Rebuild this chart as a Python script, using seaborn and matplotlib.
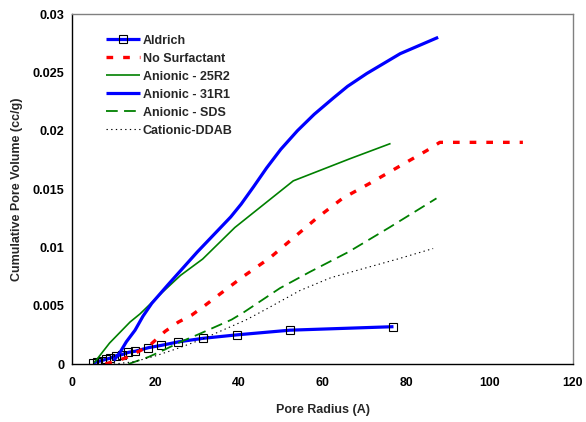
import matplotlib
matplotlib.use("Agg")
import matplotlib.pyplot as plt
import seaborn as sns
import pandas as pd

sns.set_theme(style="white")
plt.rcParams['font.family'] = ['Liberation Sans', 'DejaVu Sans']

# ---- data ----
aldrich_x = [5.1, 6.1, 7.1, 8.1, 9.1, 10.5, 11.9, 13.5, 15.2, 18.3, 21.4, 25.5, 31.3, 39.5, 52.2, 77.0]
aldrich_y = [0.0001, 0.0002, 0.0003, 0.0004, 0.0005, 0.0007, 0.0008, 0.0010, 0.0011, 0.0014, 0.0016,
             0.0019, 0.0022, 0.0025, 0.0029, 0.0032]

nosurf_x = [8.0, 12.7, 18.3, 22.3, 25.5, 28.7, 31.4, 34.7, 41.0, 47.4, 53.0, 58.6, 64.8, 71.4, 78.2, 85.0, 88.1, 108.0]
nosurf_y = [0.0, 0.0005, 0.0015, 0.0028, 0.0036, 0.0042, 0.0049, 0.0058, 0.0075, 0.0091, 0.0108, 0.0125,
            0.0142, 0.0155, 0.0169, 0.0183, 0.0190, 0.0190]

r25_x = [5.3, 9.0, 13.9, 16.3, 21.5, 26.0, 31.3, 39.0, 46.0, 53.0, 66.6, 76.3]
r25_y = [0.0001, 0.0018, 0.0036, 0.0043, 0.0061, 0.0076, 0.0090, 0.0117, 0.0137, 0.0157, 0.0176, 0.0189]

r31_x = [10.0, 11.5, 13.0, 15.1, 17.0, 19.1, 23.0, 26.0, 30.0, 34.0, 38.0, 40.5, 43.5, 46.6, 50.0,
         54.0, 58.0, 62.6, 66.0, 70.6, 78.6, 87.7]
r31_y = [0.0003, 0.0010, 0.0019, 0.0029, 0.0041, 0.0052, 0.0068, 0.0080, 0.0096, 0.0111, 0.0126, 0.0137,
         0.0152, 0.0168, 0.0184, 0.0200, 0.0214, 0.0228, 0.0238, 0.0249, 0.0266, 0.0280]

sds_x = [13.5, 18.3, 22.0, 26.0, 30.0, 38.2, 41.0, 49.8, 57.0, 66.2, 76.0, 87.3]
sds_y = [0.0, 0.0006, 0.0012, 0.0019, 0.0025, 0.0038, 0.0044, 0.0065, 0.0079, 0.0096, 0.0117, 0.0142]

ddab_x = [10.0, 15.0, 20.0, 25.0, 31.0, 41.8, 47.0, 54.6, 62.0, 69.0, 78.0, 86.5]
ddab_y = [0.0, 0.0002, 0.0007, 0.0013, 0.0021, 0.0038, 0.0048, 0.0063, 0.0074, 0.0081, 0.0090, 0.0099]

labels = ["Aldrich", "No Surfactant", "Anionic - 25R2", "Anionic - 31R1", "Anionic - SDS", "Cationic-DDAB"]
x_ticks = [0, 20, 40, 60, 80, 100, 120]
y_ticks = [0, 0.005, 0.01, 0.015, 0.02, 0.025, 0.03]
y_ticklabels = ["0", "0.005", "0.01", "0.015", "0.02", "0.025", "0.03"]

fig = plt.figure(figsize=(5.86, 4.22), dpi=100)
ax = fig.add_axes([0.1229, 0.1374, 0.8549, 0.8294])

# Aldrich
sns.lineplot(x=aldrich_x, y=aldrich_y, ax=ax, sort=False, color="#0000FF", lw=2.3,
             marker="s", markersize=6.3, markerfacecolor="none", markeredgecolor="black",
             markeredgewidth=0.8)
# No Surfactant
sns.lineplot(x=nosurf_x, y=nosurf_y, ax=ax, sort=False, color="#FF0000", lw=2.4)
ax.lines[-1].set_dashes((2.0, 3.0))
# 25R2
sns.lineplot(x=r25_x, y=r25_y, ax=ax, sort=False, color="#008000", lw=1.2)
# 31R1
sns.lineplot(x=r31_x, y=r31_y, ax=ax, sort=False, color="#0000FF", lw=2.3)
# SDS
sns.lineplot(x=sds_x, y=sds_y, ax=ax, sort=False, color="#008000", lw=1.3)
ax.lines[-1].set_dashes((6.5, 3.5))
# DDAB
sns.lineplot(x=ddab_x, y=ddab_y, ax=ax, sort=False, color="black", lw=0.8)
ax.lines[-1].set_dashes((1.2, 3.0))

for ln in ax.lines:
    ln.set_solid_capstyle("butt")
    ln.set_dash_capstyle("butt")
    ln.set_solid_joinstyle("round")

leg = ax.legend(ax.lines[:6], labels, loc="upper left", bbox_to_anchor=(0.058, 0.955),
                frameon=False, handlelength=2.75, handletextpad=0.2, labelspacing=0.48,
                prop={"weight": "bold", "size": 9}, borderaxespad=0)

ax.set_xlim(0, 120)
ax.set_ylim(0, 0.03)
ax.set_xticks(x_ticks)
ax.set_xticklabels([str(t) for t in x_ticks], fontsize=8.8, fontweight="bold")
ax.set_yticks(y_ticks)
ax.set_yticklabels(y_ticklabels, fontsize=9.1, fontweight="bold")
ax.tick_params(axis="both", direction="in", length=4, width=0.8, colors="black")
ax.tick_params(axis="y", pad=5.5)
ax.tick_params(axis="x", pad=9)
ax.set_xlabel("Pore Radius (A)", fontsize=9, fontweight="bold", labelpad=11)
ax.set_ylabel("Cumulative Pore Volume (cc/g)", fontsize=9, fontweight="bold", labelpad=7)

for side in ["left", "bottom"]:
    ax.spines[side].set_color("black")
    ax.spines[side].set_linewidth(1.0)
for side in ["top", "right"]:
    ax.spines[side].set_color("#808080")
    ax.spines[side].set_linewidth(1.0)
    ax.spines[side].set_visible(True)

fig.savefig("out.png", dpi=100)
